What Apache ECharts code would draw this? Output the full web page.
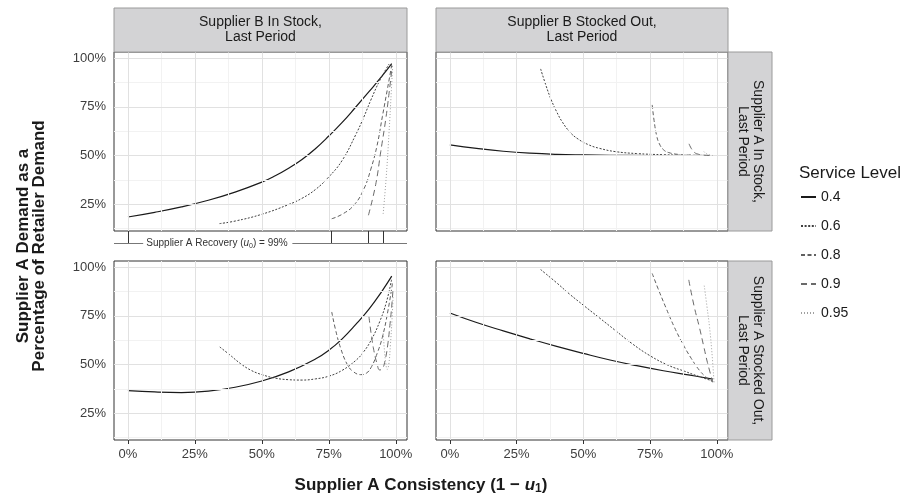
<!DOCTYPE html>
<html>
<head>
<meta charset="utf-8">
<script src="https://cdn.jsdelivr.net/npm/echarts@6.0.0/dist/echarts.min.js"></script>
<style>
html, body { margin: 0; padding: 0; background: #fff; }
#main { width: 908px; height: 496px; }
</style>
</head>
<body>
<div id="main"></div>
<script>
//服务水平 / 刻度
var levels = ['0.4', '0.6', '0.8', '0.9', '0.95'];
var xTicks = [0, 25, 50, 75, 100];
var yTicks = [25, 50, 75, 100];
var xMinor = [12.5, 37.5, 62.5, 87.5];
var yMinor = [12.5, 37.5, 62.5, 87.5];
var recoveryTicks = [0, 76, 89.8, 95.3];

//左上: B 有货, A 有货
var tl04 = [[0,18.4],[10,20.8],[20,23.6],[30,27],[40,31.2],[50,36.3],[55,39.6],[60,43.5],[65,48],[70,53.5],[75,60],[80,67],[85,74.8],[90,82.8],[95,91],[98.5,97.2]];
var tl06 = [[34.2,15],[40,16.3],[50,19.8],[60,24.8],[65,28],[70,32.5],[75,39],[80,47.5],[85,60.5],[88,69.5],[90.7,78.5],[94,88.5],[97.5,97]];
var tl08 = [[76.1,17.5],[80,19.8],[84.4,24.5],[88,32.5],[90.7,43],[93,55],[95,70],[97,85],[98.5,96.5]];
var tl09 = [[89.8,19.3],[92.5,35],[94.4,52],[96.3,69],[97.5,82],[98.7,96]];
var tl095 = [[95.3,20],[96.5,40],[97.5,62],[98.3,82],[98.8,95]];

//右上: B 缺货, A 有货
var tr04 = [[0,55.5],[10,53.7],[20,52.2],[30,51.2],[40,50.6],[50,50.3],[60,50.1],[75,50],[99,50]];
var tr06 = [[34,94.5],[36,86],[38,78.5],[40,72.5],[42,67.5],[45,62],[48,58.5],[52,55.5],[56,53.7],[62,52],[70,51],[80,50.4],[90,50.1],[98.5,50]];
var tr08 = [[75.8,76],[76.5,68],[77.5,60],[78.5,56],[80,53],[82,51.5],[86,50.5],[90,50.2],[98.5,50]];
var tr09 = [[89.6,56],[90.5,53.5],[91.7,51.5],[93,50.7],[95,50.2],[98.5,50]];
var tr095 = [[95.2,52],[96,51],[97,50.4],[98.5,50]];

//左下: B 有货, A 缺货
var bl04 = [[0,36.6],[10,35.9],[20,35.6],[30,36.3],[40,38.3],[50,41.5],[60,46.2],[70,52.8],[75,57.3],[80,63.2],[85,70.5],[90,78.5],[95,88],[98.5,95.4]];
var bl06 = [[34.3,59],[38,55],[42,50.5],[46,47],[50,44.8],[55,43],[60,42.2],[65,42],[70,42.6],[75,44],[80,47],[85,52],[88,56.5],[91,63],[94,72],[96.5,82],[98.5,94]];
var bl08 = [[76.1,77],[77.5,68],[79.4,58.5],[81.9,50],[84,46.5],[86.9,44.8],[89,45.5],[91,49],[93,55.5],[95,64],[97,77],[98.8,92]];
var bl09 = [[90,74.5],[91,64],[92,56],[93,50.5],[94,47.2],[95,47.8],[96,52],[97,60],[97.8,70],[98.5,80],[99,89]];
var bl095 = [[95.3,66],[95.8,57],[96.3,50.5],[96.8,47.5],[97.4,50],[98,60],[98.6,73],[99,85]];

//右下: B 缺货, A 缺货
var br04 = [[0,76.5],[10,71.6],[20,67.3],[30,63.2],[40,59.3],[50,55.7],[60,52.3],[70,49.4],[80,46.8],[90,44.5],[98.5,42.5]];
var br06 = [[34,98.8],[40,92],[45,86],[50,80.5],[56,74],[62,67.5],[68,61],[75,54.5],[82,49.5],[88,46.5],[93,44],[98.5,41.5]];
var br08 = [[75.8,96.8],[78,89],[81,79],[84,69.5],[87.3,60.5],[90.5,53],[93.5,47],[96,43.5],[98.5,41]];
var br09 = [[89.5,93.5],[91.5,80],[93.5,69],[95,60],[96.5,51],[98.5,41]];
var br095 = [[95.3,90.5],[96.3,80],[97.3,69],[98.3,54],[99,40]];

var FONT = '"Liberation Sans", Arial, Helvetica, sans-serif';
var X_MIN = -5.2, X_MAX = 104.2, Y_MIN = 11.2, Y_MAX = 103.2;

function build_chart() {
	var panels = [
		[tl04, tl06, tl08, tl09, tl095],
		[tr04, tr06, tr08, tr09, tr095],
		[bl04, bl06, bl08, bl09, bl095],
		[br04, br06, br08, br09, br095]
	];
	//线型
	var styles = [
		{color: '#1a1a1a', width: 1.2, type: 'solid'},
		{color: '#404040', width: 1, type: [2, 1.6]},
		{color: '#606060', width: 1, type: [4, 2.5]},
		{color: '#6a6a6a', width: 1, type: [6, 4]},
		{color: '#a0a0a0', width: 1, type: [1, 2]}
	];
	var grids = [
		{left: 114, top: 52, width: 293, height: 179},
		{left: 436, top: 52, width: 292, height: 179},
		{left: 114, top: 261, width: 293, height: 179},
		{left: 436, top: 261, width: 292, height: 179}
	];
	var xAxis = [], yAxis = [], series = [];
	for (var i = 0; i < 4; i++) {
		grids[i].show = true;
		grids[i].borderColor = '#333';
		grids[i].borderWidth = 1;
		grids[i].backgroundColor = 'transparent';
		var bottom = i >= 2, leftSide = (i % 2 == 0);
		xAxis.push({
			type: 'value', gridIndex: i, min: X_MIN, max: X_MAX,
			axisLine: {show: false},
			splitLine: {show: false},
			axisTick: {show: bottom, length: 4, customValues: xTicks, lineStyle: {color: '#333'}},
			axisLabel: {
				show: bottom, customValues: xTicks, margin: 8,
				fontSize: 13, color: '#3d3d3d', fontFamily: FONT,
				formatter: function(v) { return v + '%'; }
			}
		});
		yAxis.push({
			type: 'value', gridIndex: i, min: Y_MIN, max: Y_MAX,
			axisLine: {show: false},
			splitLine: {show: false},
			axisTick: {show: leftSide, length: 4, customValues: yTicks, lineStyle: {color: '#333'}},
			axisLabel: {
				show: leftSide, customValues: yTicks, margin: 8,
				fontSize: 13, color: '#3d3d3d', fontFamily: FONT,
				formatter: function(v) { return v + '%'; }
			}
		});
		//网格线
		var gl = [];
		xMinor.forEach(function(v) { gl.push({xAxis: v, lineStyle: {color: '#f2f2f2', width: 1, type: 'solid'}}); });
		yMinor.forEach(function(v) { gl.push({yAxis: v, lineStyle: {color: '#f2f2f2', width: 1, type: 'solid'}}); });
		xTicks.forEach(function(v) { gl.push({xAxis: v, lineStyle: {color: '#e1e1e1', width: 1, type: 'solid'}}); });
		yTicks.forEach(function(v) { gl.push({yAxis: v, lineStyle: {color: '#e1e1e1', width: 1, type: 'solid'}}); });
		series.push({
			type: 'line', xAxisIndex: i, yAxisIndex: i, data: [], silent: true, z: 1,
			markLine: {silent: true, symbol: 'none', animation: false, label: {show: false}, emphasis: {disabled: true}, data: gl}
		});
		for (var k = 0; k < levels.length; k++) {
			series.push({
				name: levels[k], type: 'line', xAxisIndex: i, yAxisIndex: i,
				data: panels[i][k], symbol: 'none', showSymbol: false, smooth: 0.45,
				silent: true, z: 2 + k,
				lineStyle: styles[k], itemStyle: {color: styles[k].color}
			});
		}
	}
	//恢复率标注
	grids.push({left: 114, top: 231, width: 293, height: 12, show: false});
	xAxis.push({type: 'value', gridIndex: 4, min: X_MIN, max: X_MAX, show: false});
	yAxis.push({type: 'value', gridIndex: 4, min: 0, max: 1, show: false});
	var annot = recoveryTicks.map(function(v) { return {coords: [[v, 1], [v, 0]]}; });
	annot.push({coords: [[X_MIN, 0], [5.7, 0]], lineStyle: {color: '#777'}});
	annot.push({coords: [[61.4, 0], [X_MAX, 0]], lineStyle: {color: '#777'}});
	series.push({
		type: 'lines', coordinateSystem: 'cartesian2d', xAxisIndex: 4, yAxisIndex: 4,
		silent: true, clip: false, z: 3,
		lineStyle: {color: '#333', width: 1, opacity: 1, curveness: 0},
		data: annot
	});

	var stripStyle = {fill: '#d3d3d5', stroke: '#9a9a9a', lineWidth: 1};
	var stripText = {fontSize: 14, lineHeight: 15, fill: '#1a1a1a', fontFamily: FONT, align: 'center', verticalAlign: 'middle'};
	function txt(text, x, y, rot) {
		return {type: 'text', x: x, y: y, rotation: rot || 0, z: 10, style: Object.assign({text: text}, stripText)};
	}
	var graphic = [
		{type: 'rect', shape: {x: 114, y: 8, width: 293, height: 44}, style: stripStyle, z: 9},
		txt('Supplier B In Stock,\nLast Period', 260.5, 30),
		{type: 'rect', shape: {x: 436, y: 8, width: 292, height: 44}, style: stripStyle, z: 9},
		txt('Supplier B Stocked Out,\nLast Period', 582, 30),
		{type: 'rect', shape: {x: 728, y: 52, width: 44, height: 179}, style: stripStyle, z: 9},
		txt('Supplier A In Stock,\nLast Period', 750, 141.5, -Math.PI / 2),
		{type: 'rect', shape: {x: 728, y: 261, width: 44, height: 179}, style: stripStyle, z: 9},
		txt('Supplier A Stocked Out,\nLast Period', 750, 350.5, -Math.PI / 2),
		{type: 'text', x: 799, y: 173, z: 10, style: {text: 'Service Level', fontSize: 17, fill: '#1a1a1a', fontFamily: FONT, align: 'left', verticalAlign: 'middle'}},
		{type: 'text', x: 217, y: 243, z: 10, style: {
			text: 'Supplier A Recovery ({i|u}{s|0}) = 99%', fontSize: 10, lineHeight: 14, fill: '#333', fontFamily: FONT,
			align: 'center', verticalAlign: 'middle', backgroundColor: '#fff',
			rich: {
				i: {fontSize: 10, fontStyle: 'italic', lineHeight: 14, fontFamily: FONT, fill: '#333'},
				s: {fontSize: 7, lineHeight: 14, verticalAlign: 'bottom', fontFamily: FONT, fill: '#333'}
			}
		}},
		{type: 'text', x: 421, y: 485, z: 10, style: {
			text: 'Supplier A Consistency (1 \u2212 {i|u}{s|1})', fontSize: 17, fontWeight: 'bold', lineHeight: 20,
			fill: '#1a1a1a', fontFamily: FONT, align: 'center', verticalAlign: 'middle',
			rich: {
				i: {fontSize: 17, fontWeight: 'bold', fontStyle: 'italic', lineHeight: 20, fontFamily: FONT, fill: '#1a1a1a'},
				s: {fontSize: 12, fontWeight: 'bold', lineHeight: 20, verticalAlign: 'bottom', fontFamily: FONT, fill: '#1a1a1a'}
			}
		}},
		{type: 'text', x: 31, y: 246, rotation: Math.PI / 2, z: 10, style: {
			text: 'Supplier A Demand as a\nPercentage of Retailer Demand', fontSize: 17, fontWeight: 'bold', lineHeight: 16,
			fill: '#1a1a1a', fontFamily: FONT, align: 'center', verticalAlign: 'middle'
		}}
	];

	var option = {
		animation: false,
		backgroundColor: '#fff',
		textStyle: {fontFamily: FONT},
		grid: grids,
		xAxis: xAxis,
		yAxis: yAxis,
		legend: {
			orient: 'vertical', left: 800, top: 190, padding: 0,
			itemWidth: 15, itemHeight: 14, itemGap: 15,
			data: levels, selectedMode: false,
			//只显示线, 不画符号
			itemStyle: {color: 'rgba(0,0,0,0)', borderColor: 'rgba(0,0,0,0)', borderWidth: 0, opacity: 0},
			textStyle: {fontSize: 14, color: '#1a1a1a', fontFamily: FONT}
		},
		graphic: graphic,
		series: series
	};
	var myChart = echarts.init(document.getElementById('main'));
	myChart.setOption(option, true);
}
build_chart();
</script>
</body>
</html>
